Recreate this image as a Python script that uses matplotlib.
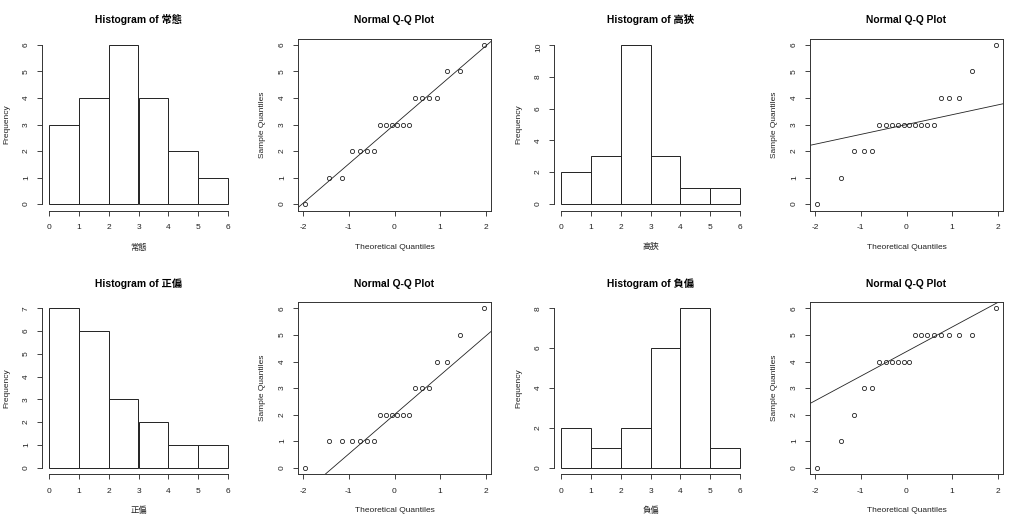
import numpy as np
import matplotlib
matplotlib.use('Agg')
import matplotlib.pyplot as plt
from statistics import NormalDist

plt.rcParams['font.family'] = ['Liberation Sans', 'Noto Sans CJK TC']
plt.rcParams['axes.unicode_minus'] = False

# samples (20 each)
names = ['常態', '高狹', '正偏', '負偏']
normal = [0, 1, 1, 2, 2, 2, 2, 3, 3, 3, 3, 3, 3, 4, 4, 4, 4, 5, 5, 6]
tall = [0, 1, 2, 2, 2, 3, 3, 3, 3, 3, 3, 3, 3, 3, 3, 4, 4, 4, 5, 6]
pos_skew = [0, 1, 1, 1, 1, 1, 1, 2, 2, 2, 2, 2, 2, 3, 3, 3, 4, 4, 5, 6]
neg_skew = [0, 1, 2, 3, 3, 4, 4, 4, 4, 4, 4, 5, 5, 5, 5, 5, 5, 5, 5, 6]
samples = [normal, tall, pos_skew, neg_skew]

bins = [0, 1, 2, 3, 4, 5, 6]
hist_yticks = [[0, 1, 2, 3, 4, 5, 6], [0, 2, 4, 6, 8, 10],
               [0, 1, 2, 3, 4, 5, 6, 7], [0, 2, 4, 6, 8]]
qq_xticks = [-2, -1, 0, 1, 2]
qq_yticks = [0, 1, 2, 3, 4, 5, 6]

W, H = 1024, 527
FS = 6.0
TFS = 7.4

fig = plt.figure(figsize=(W / 100, H / 100), dpi=100)


def add_panel(col, row):
    # plot region in pixels, like R's mfrow=c(2,4) layout
    left = 256 * col + 41.8
    right = 256 * col + 235.2
    top = 263.5 * row + 38.6
    bottom = 263.5 * row + 210.5
    ax = fig.add_axes([left / W, 1 - bottom / H, (right - left) / W, (bottom - top) / H])
    ax.tick_params(direction='out', length=3.5, width=0.6, labelsize=FS, pad=5, colors='#222222')
    ax.tick_params(axis='x', pad=6.5)
    ax.tick_params(axis='y', labelrotation=90)
    for s in ax.spines.values():
        s.set_linewidth(0.7)
        s.set_color('#333333')
    wpx, hpx = right - left, bottom - top
    ax.xaxis.set_label_coords(0.5, -37 / hpx)
    ax.yaxis.set_label_coords(-35 / wpx, 0.5)
    return ax


def style_labels(ax, xl, yl, title):
    ax.set_xlabel(xl, fontsize=FS, color='#222222')
    ax.set_ylabel(yl, fontsize=FS, color='#222222')
    ax.xaxis.label.set_va('center')
    ax.yaxis.label.set_va('center')
    ax.set_title(title, fontsize=TFS, fontweight='bold', pad=11)


for k, (name, vals) in enumerate(zip(names, samples)):
    row = k // 2
    col = (k % 2) * 2
    vals = np.array(vals, dtype=float)

    # histogram with right-closed bins like R's hist()
    b = np.array(bins, dtype=float)
    counts = np.histogram(-vals, bins=-b[::-1])[0][::-1]
    ax = add_panel(col, row)
    ax.bar(b[:-1], counts, width=np.diff(b), align='edge',
           facecolor='white', edgecolor='#222222', linewidth=0.7)
    ymax = counts.max()
    ax.set_xlim(b[0] - 0.04 * (b[-1] - b[0]), b[-1] + 0.04 * (b[-1] - b[0]))
    ax.set_ylim(-0.04 * ymax, ymax * 1.04)
    ax.set_xticks(bins)
    ax.set_yticks(hist_yticks[k])
    ax.spines['top'].set_visible(False)
    ax.spines['right'].set_visible(False)
    ax.spines['bottom'].set_bounds(b[0], b[-1])
    ax.spines['left'].set_bounds(hist_yticks[k][0], hist_yticks[k][-1])
    style_labels(ax, name, 'Frequency', 'Histogram of ' + name)

    # normal Q-Q plot with qqline through the quartiles
    n = len(vals)
    theo = np.array([NormalDist().inv_cdf((i - 0.5) / n) for i in range(1, n + 1)])
    ys = np.sort(vals)
    ax = add_panel(col + 1, row)
    ax.plot(theo, ys, linestyle='none', marker='o', markersize=3,
            markerfacecolor='none', markeredgecolor='#222222', markeredgewidth=0.6)
    q1, q3 = np.quantile(ys, [0.25, 0.75])
    z1, z3 = NormalDist().inv_cdf(0.25), NormalDist().inv_cdf(0.75)
    slope = (q3 - q1) / (z3 - z1)
    ax.axline((z1, q1), slope=slope, color='#222222', linewidth=0.6)
    rx = theo.max() - theo.min()
    ry = ys.max() - ys.min()
    ax.set_xlim(theo.min() - 0.04 * rx, theo.max() + 0.04 * rx)
    ax.set_ylim(ys.min() - 0.04 * ry, ys.max() + 0.04 * ry)
    ax.set_xticks(qq_xticks)
    ax.set_yticks(qq_yticks)
    style_labels(ax, 'Theoretical Quantiles', 'Sample Quantiles', 'Normal Q-Q Plot')

fig.savefig('out.png', dpi=100, facecolor='white')
